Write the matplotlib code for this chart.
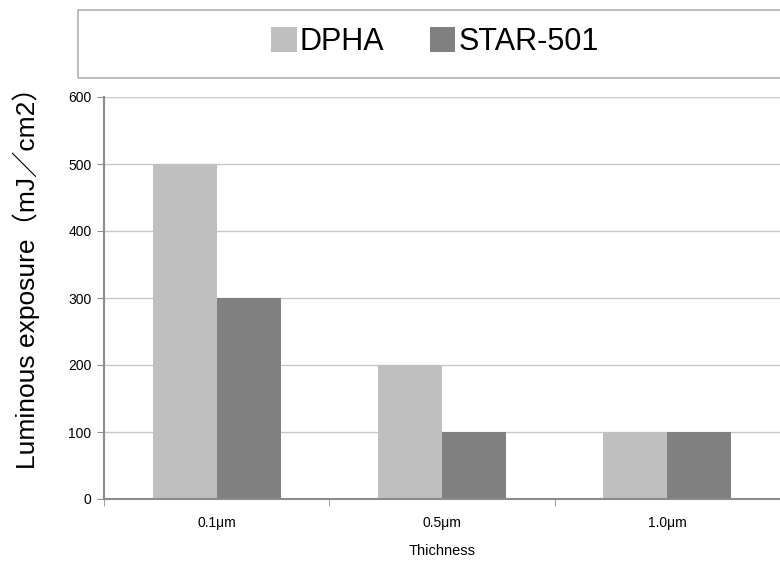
import numpy as np
import matplotlib.pyplot as plt
from matplotlib.patches import Rectangle

categories = ["0.1μm", "0.5μm", "1.0μm"]
dpha = [500, 200, 100]
star501 = [300, 100, 100]
series_names = ["DPHA", "STAR-501"]
y_ticks = [0, 100, 200, 300, 400, 500, 600]

plt.rcParams['font.family'] = ['Liberation Sans', 'Noto Sans CJK JP', 'DejaVu Sans']

fig = plt.figure(figsize=(7.8, 5.66), dpi=100)
ax = fig.add_axes([104 / 780, 1 - 499 / 566, 676 / 780, 402 / 566])

x = np.arange(len(categories))
w = 0.284
ax.bar(x - w / 2, dpha, w, color="#bfbfbf", label=series_names[0], zorder=2)
ax.bar(x + w / 2, star501, w, color="#808080", label=series_names[1], zorder=2)

ax.set_xlim(-0.5, len(categories) - 0.5)
ax.set_ylim(0, 600)
ax.set_yticks(y_ticks)
ax.set_xticks(x)
ax.set_xticklabels(categories, fontsize=10)
ax.set_xticks(np.arange(len(categories) + 1) - 0.5, minor=True)
ax.tick_params(axis="x", which="major", length=0, pad=12)
ax.tick_params(axis="x", which="minor", length=5, color="#909090")
ax.tick_params(axis="y", length=5, color="#909090", labelsize=10, pad=4)
ax.yaxis.grid(True, color="#c8c8c8", linewidth=1, zorder=0)

for s in ["top", "right"]:
    ax.spines[s].set_visible(False)
for s in ["left", "bottom"]:
    ax.spines[s].set_color("#8c8c8c")
    ax.spines[s].set_linewidth(1.5)

ax.set_ylabel("Luminous exposure（mJ／cm2）", fontsize=19)
ax.yaxis.set_label_coords(-0.095, 0.565)
ax.set_xlabel("Thichness", fontsize=10.5, labelpad=10)

# legend box
fig.patches.append(Rectangle((78 / 780, 1 - 78 / 566), 720 / 780, 68 / 566,
                             transform=fig.transFigure, fill=False,
                             edgecolor="#b0b0b0", linewidth=1.2))
h, l = ax.get_legend_handles_labels()
fig.legend(h, l, loc="center", bbox_to_anchor=(435 / 780, 1 - 42 / 566), ncol=2,
           frameon=False, fontsize=22, handlelength=0.82, handleheight=0.85,
           handletextpad=0.1, columnspacing=1.5)

fig.savefig("out.png", dpi=100)
